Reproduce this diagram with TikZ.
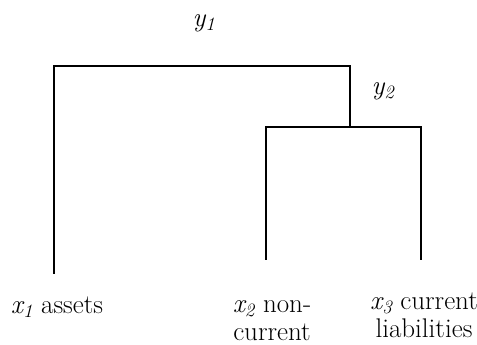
\documentclass[tikz,border=0pt]{standalone}
\newcommand{\var}[2]{\textit{#1\textsubscript{#2}}}
\begin{document}
\begin{tikzpicture}[x=1pt, y=-1pt,
    branch/.style={line width=2.7pt, line cap=rect},
    leaf/.style={align=center, font=\fontsize{27}{28}\selectfont, inner sep=0pt, anchor=base},
    lvl/.style={font=\fontsize{27}{27}\selectfont, inner sep=0pt}]
  \useasboundingbox (0,0) rectangle (477,345);
  % leaf tops and merge points
  \coordinate (l1) at (54,273);
  \coordinate (l2) at (266,259);
  \coordinate (l3) at (421,259);
  \coordinate (m2) at (350,127);
  \coordinate (m1) at (202,66);
  \draw[branch] (l2) |- (m2) -| (l3);
  \draw[branch] (l1) |- (m1) -| (m2);
  % labels
  \node[lvl] (y1) at (204,23) {\var{y}{1}};
  \node[lvl] (y2) at (383,91) {\var{y}{2}};
  \node[leaf] (x1) at (57,313) {\var{x}{1} assets};
  \node[leaf] (x2) at (272,340) {\var{x}{2} non-\\current};
  \node[leaf] (x3) at (424,337) {\var{x}{3} current\\liabilities};
\end{tikzpicture}
\end{document}
